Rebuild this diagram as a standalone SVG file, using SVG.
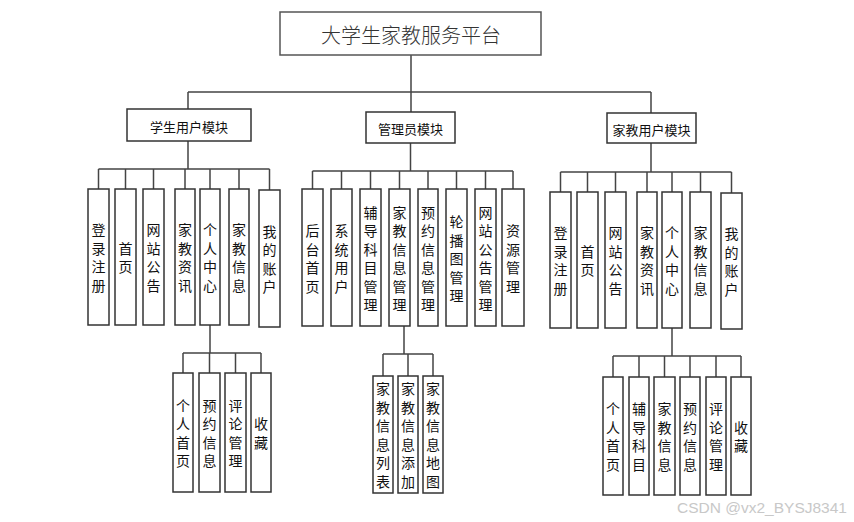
<svg xmlns="http://www.w3.org/2000/svg" width="854" height="522" viewBox="0 0 854 522">
<style>
.bx{fill:#fff;stroke:#333;stroke-width:1.5}
.top{fill:#fff;stroke:#555;stroke-width:1.5}
.c{fill:none;stroke:#444;stroke-width:1.5}
text{font-family:"Noto Sans CJK SC","Liberation Sans",sans-serif;fill:#111;text-anchor:middle;dominant-baseline:central}
.v{font-size:14px}
.m{font-size:13px}
.t{font-size:20px;fill:#333;font-weight:300}
.wm{font-family:"Liberation Sans",Arial,sans-serif;font-size:15.5px;fill:#c8c8c8;text-anchor:start;dominant-baseline:auto}
</style>
<rect width="854" height="522" fill="#fff"/>
<g id="connectors">
<path class="c" d="M411,55V92M188,92H651M188,92V109M411,92V112M651,92V113"/>
<path class="c" d="M188,141V169M98.5,169H269.5M98.5,169V189M125.5,169V189M153.5,169V189M185,169V189M210,169V189M239,169V189M269.5,169V190"/>
<path class="c" d="M410.5,143V171M312.5,171H513M312.5,171V189M341.5,171V189M370.5,171V189M399.5,171V189M428,171V189M456.5,171V189M485.5,171V189M513,171V189"/>
<path class="c" d="M651,143V172M560.5,172H731.5M560.5,172V192M587.5,172V192M615.5,172V192M647,172V192M672,172V192M700.5,172V192M731.5,172V193"/>
<path class="c" d="M210,325V353M183,353H261M183,353V373M209.5,353V373M235.5,353V373M261,353V373"/>
<path class="c" d="M404,326V354M383,354H433M383,354V376M408,354V376M433,354V376"/>
<path class="c" d="M672,328V356M613,356H741M613,356V377M639,356V377M664.5,356V377M690,356V377M716,356V377M741,356V377"/>
</g>
<g id="root"><rect class="top" x="280" y="12" width="261" height="43"/><text class="t" x="411" y="34">大学生家教服务平台</text></g>
<g id="m-student"><rect class="bx" x="127" y="109" width="124" height="32"/><text class="m" x="189" y="126">学生用户模块</text></g>
<g id="m-admin"><rect class="bx" x="366" y="112" width="89" height="31"/><text class="m" x="410.5" y="128">管理员模块</text></g>
<g id="m-tutor"><rect class="bx" x="607" y="113" width="89" height="30"/><text class="m" x="651.5" y="129">家教用户模块</text></g>

<g id="s1"><rect class="bx" x="88" y="189" width="21" height="136"/><text class="v"><tspan x="98.5" y="229.25">登</tspan><tspan x="98.5" y="247.75">录</tspan><tspan x="98.5" y="266.25">注</tspan><tspan x="98.5" y="284.75">册</tspan></text></g>
<g id="s2"><rect class="bx" x="115" y="189" width="21" height="136"/><text class="v"><tspan x="125.5" y="247.75">首</tspan><tspan x="125.5" y="266.25">页</tspan></text></g>
<g id="s3"><rect class="bx" x="143" y="189" width="21" height="136"/><text class="v"><tspan x="153.5" y="229.25">网</tspan><tspan x="153.5" y="247.75">站</tspan><tspan x="153.5" y="266.25">公</tspan><tspan x="153.5" y="284.75">告</tspan></text></g>
<g id="s4"><rect class="bx" x="175" y="189" width="20" height="136"/><text class="v"><tspan x="185" y="229.25">家</tspan><tspan x="185" y="247.75">教</tspan><tspan x="185" y="266.25">资</tspan><tspan x="185" y="284.75">讯</tspan></text></g>
<g id="s5"><rect class="bx" x="200" y="189" width="20" height="136"/><text class="v"><tspan x="210" y="229.25">个</tspan><tspan x="210" y="247.75">人</tspan><tspan x="210" y="266.25">中</tspan><tspan x="210" y="284.75">心</tspan></text></g>
<g id="s6"><rect class="bx" x="229" y="189" width="20" height="136"/><text class="v"><tspan x="239" y="229.25">家</tspan><tspan x="239" y="247.75">教</tspan><tspan x="239" y="266.25">信</tspan><tspan x="239" y="284.75">息</tspan></text></g>
<g id="s7"><rect class="bx" x="259" y="190" width="21" height="137"/><text class="v"><tspan x="269.5" y="230.75">我</tspan><tspan x="269.5" y="249.25">的</tspan><tspan x="269.5" y="267.75">账</tspan><tspan x="269.5" y="286.25">户</tspan></text></g>

<g id="a1"><rect class="bx" x="302" y="189" width="21" height="137"/><text class="v"><tspan x="312.5" y="230.25">后</tspan><tspan x="312.5" y="248.75">台</tspan><tspan x="312.5" y="267.25">首</tspan><tspan x="312.5" y="285.75">页</tspan></text></g>
<g id="a2"><rect class="bx" x="331" y="189" width="21" height="137"/><text class="v"><tspan x="341.5" y="230.25">系</tspan><tspan x="341.5" y="248.75">统</tspan><tspan x="341.5" y="267.25">用</tspan><tspan x="341.5" y="285.75">户</tspan></text></g>
<g id="a3"><rect class="bx" x="360" y="189" width="21" height="137"/><text class="v"><tspan x="370.5" y="211.75">辅</tspan><tspan x="370.5" y="230.25">导</tspan><tspan x="370.5" y="248.75">科</tspan><tspan x="370.5" y="267.25">目</tspan><tspan x="370.5" y="285.75">管</tspan><tspan x="370.5" y="304.25">理</tspan></text></g>
<g id="a4"><rect class="bx" x="389" y="189" width="21" height="137"/><text class="v"><tspan x="399.5" y="211.75">家</tspan><tspan x="399.5" y="230.25">教</tspan><tspan x="399.5" y="248.75">信</tspan><tspan x="399.5" y="267.25">息</tspan><tspan x="399.5" y="285.75">管</tspan><tspan x="399.5" y="304.25">理</tspan></text></g>
<g id="a5"><rect class="bx" x="418" y="189" width="20" height="137"/><text class="v"><tspan x="428" y="211.75">预</tspan><tspan x="428" y="230.25">约</tspan><tspan x="428" y="248.75">信</tspan><tspan x="428" y="267.25">息</tspan><tspan x="428" y="285.75">管</tspan><tspan x="428" y="304.25">理</tspan></text></g>
<g id="a6"><rect class="bx" x="446" y="189" width="21" height="137"/><text class="v"><tspan x="456.5" y="221">轮</tspan><tspan x="456.5" y="239.5">播</tspan><tspan x="456.5" y="258">图</tspan><tspan x="456.5" y="276.5">管</tspan><tspan x="456.5" y="295">理</tspan></text></g>
<g id="a7"><rect class="bx" x="475" y="189" width="21" height="137"/><text class="v"><tspan x="485.5" y="211.75">网</tspan><tspan x="485.5" y="230.25">站</tspan><tspan x="485.5" y="248.75">公</tspan><tspan x="485.5" y="267.25">告</tspan><tspan x="485.5" y="285.75">管</tspan><tspan x="485.5" y="304.25">理</tspan></text></g>
<g id="a8"><rect class="bx" x="502" y="189" width="22" height="137"/><text class="v"><tspan x="513" y="230.25">资</tspan><tspan x="513" y="248.75">源</tspan><tspan x="513" y="267.25">管</tspan><tspan x="513" y="285.75">理</tspan></text></g>

<g id="t1"><rect class="bx" x="550" y="192" width="21" height="136"/><text class="v"><tspan x="560.5" y="232.25">登</tspan><tspan x="560.5" y="250.75">录</tspan><tspan x="560.5" y="269.25">注</tspan><tspan x="560.5" y="287.75">册</tspan></text></g>
<g id="t2"><rect class="bx" x="577" y="192" width="21" height="136"/><text class="v"><tspan x="587.5" y="250.75">首</tspan><tspan x="587.5" y="269.25">页</tspan></text></g>
<g id="t3"><rect class="bx" x="605" y="192" width="21" height="136"/><text class="v"><tspan x="615.5" y="232.25">网</tspan><tspan x="615.5" y="250.75">站</tspan><tspan x="615.5" y="269.25">公</tspan><tspan x="615.5" y="287.75">告</tspan></text></g>
<g id="t4"><rect class="bx" x="637" y="192" width="20" height="136"/><text class="v"><tspan x="647" y="232.25">家</tspan><tspan x="647" y="250.75">教</tspan><tspan x="647" y="269.25">资</tspan><tspan x="647" y="287.75">讯</tspan></text></g>
<g id="t5"><rect class="bx" x="662" y="192" width="20" height="136"/><text class="v"><tspan x="672" y="232.25">个</tspan><tspan x="672" y="250.75">人</tspan><tspan x="672" y="269.25">中</tspan><tspan x="672" y="287.75">心</tspan></text></g>
<g id="t6"><rect class="bx" x="690" y="192" width="21" height="136"/><text class="v"><tspan x="700.5" y="232.25">家</tspan><tspan x="700.5" y="250.75">教</tspan><tspan x="700.5" y="269.25">信</tspan><tspan x="700.5" y="287.75">息</tspan></text></g>
<g id="t7"><rect class="bx" x="721" y="193" width="21" height="136"/><text class="v"><tspan x="731.5" y="233.25">我</tspan><tspan x="731.5" y="251.75">的</tspan><tspan x="731.5" y="270.25">账</tspan><tspan x="731.5" y="288.75">户</tspan></text></g>

<g id="ss1"><rect class="bx" x="173" y="373" width="20" height="119"/><text class="v"><tspan x="183" y="404.75">个</tspan><tspan x="183" y="423.25">人</tspan><tspan x="183" y="441.75">首</tspan><tspan x="183" y="460.25">页</tspan></text></g>
<g id="ss2"><rect class="bx" x="199" y="373" width="21" height="119"/><text class="v"><tspan x="209.5" y="404.75">预</tspan><tspan x="209.5" y="423.25">约</tspan><tspan x="209.5" y="441.75">信</tspan><tspan x="209.5" y="460.25">息</tspan></text></g>
<g id="ss3"><rect class="bx" x="225" y="373" width="21" height="119"/><text class="v"><tspan x="235.5" y="404.75">评</tspan><tspan x="235.5" y="423.25">论</tspan><tspan x="235.5" y="441.75">管</tspan><tspan x="235.5" y="460.25">理</tspan></text></g>
<g id="ss4"><rect class="bx" x="251" y="373" width="20" height="119"/><text class="v"><tspan x="261" y="423.25">收</tspan><tspan x="261" y="441.75">藏</tspan></text></g>

<g id="as1"><rect class="bx" x="373" y="376" width="20" height="117"/><text class="v"><tspan x="383" y="388.25">家</tspan><tspan x="383" y="406.75">教</tspan><tspan x="383" y="425.25">信</tspan><tspan x="383" y="443.75">息</tspan><tspan x="383" y="462.25">列</tspan><tspan x="383" y="480.75">表</tspan></text></g>
<g id="as2"><rect class="bx" x="398" y="376" width="20" height="117"/><text class="v"><tspan x="408" y="388.25">家</tspan><tspan x="408" y="406.75">教</tspan><tspan x="408" y="425.25">信</tspan><tspan x="408" y="443.75">息</tspan><tspan x="408" y="462.25">添</tspan><tspan x="408" y="480.75">加</tspan></text></g>
<g id="as3"><rect class="bx" x="423" y="376" width="20" height="117"/><text class="v"><tspan x="433" y="388.25">家</tspan><tspan x="433" y="406.75">教</tspan><tspan x="433" y="425.25">信</tspan><tspan x="433" y="443.75">息</tspan><tspan x="433" y="462.25">地</tspan><tspan x="433" y="480.75">图</tspan></text></g>

<g id="ts1"><rect class="bx" x="603" y="377" width="20" height="118"/><text class="v"><tspan x="613" y="408.25">个</tspan><tspan x="613" y="426.75">人</tspan><tspan x="613" y="445.25">首</tspan><tspan x="613" y="463.75">页</tspan></text></g>
<g id="ts2"><rect class="bx" x="629" y="377" width="20" height="118"/><text class="v"><tspan x="639" y="408.25">辅</tspan><tspan x="639" y="426.75">导</tspan><tspan x="639" y="445.25">科</tspan><tspan x="639" y="463.75">目</tspan></text></g>
<g id="ts3"><rect class="bx" x="654" y="377" width="21" height="118"/><text class="v"><tspan x="664.5" y="408.25">家</tspan><tspan x="664.5" y="426.75">教</tspan><tspan x="664.5" y="445.25">信</tspan><tspan x="664.5" y="463.75">息</tspan></text></g>
<g id="ts4"><rect class="bx" x="680" y="377" width="20" height="118"/><text class="v"><tspan x="690" y="408.25">预</tspan><tspan x="690" y="426.75">约</tspan><tspan x="690" y="445.25">信</tspan><tspan x="690" y="463.75">息</tspan></text></g>
<g id="ts5"><rect class="bx" x="706" y="377" width="20" height="118"/><text class="v"><tspan x="716" y="408.25">评</tspan><tspan x="716" y="426.75">论</tspan><tspan x="716" y="445.25">管</tspan><tspan x="716" y="463.75">理</tspan></text></g>
<g id="ts6"><rect class="bx" x="731" y="377" width="20" height="118"/><text class="v"><tspan x="741" y="426.75">收</tspan><tspan x="741" y="445.25">藏</tspan></text></g>

<text class="wm" x="677" y="513">CSDN @vx2_BYSJ8341</text>
</svg>
